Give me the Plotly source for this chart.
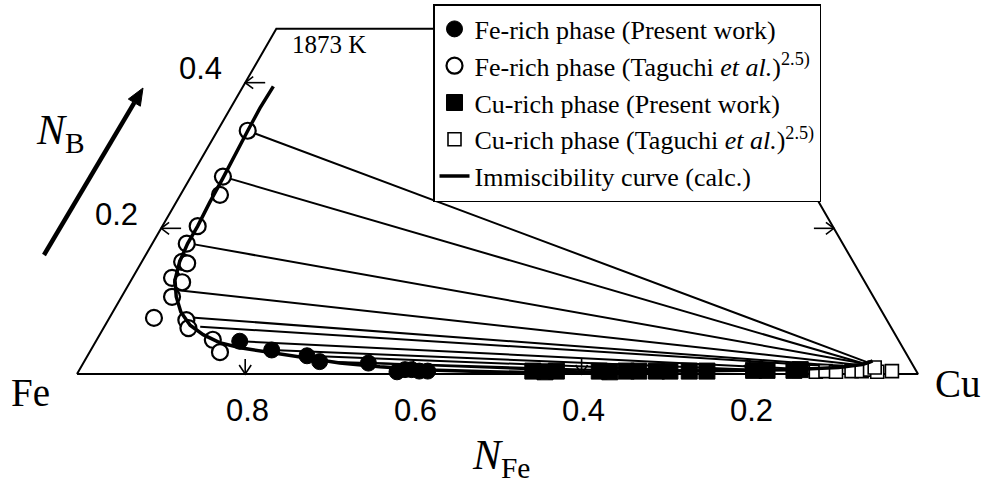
import numpy as np
import plotly.graph_objects as go

# ---------------- data (ternary compositions: N_Fe, N_B; N_Cu = 1 - N_Fe - N_B) -------------
fe_pw_NFe = [0.784, 0.752, 0.714, 0.703, 0.646, 0.618, 0.607, 0.599, 0.591, 0.581]
fe_pw_NB = [0.045, 0.033, 0.025, 0.017, 0.015, 0.003, 0.006, 0.006, 0.004, 0.004]

fe_tg_NFe = [0.630, 0.691, 0.707, 0.755, 0.780, 0.798, 0.793, 0.821, 0.812, 0.834,
             0.870, 0.833, 0.836, 0.815, 0.815]
fe_tg_NB = [0.334, 0.271, 0.246, 0.203, 0.179, 0.154, 0.152, 0.132, 0.126, 0.106,
            0.077, 0.074, 0.063, 0.047, 0.030]

cu_pw_NFe = [0.456, 0.442, 0.428, 0.377, 0.365, 0.345, 0.330, 0.309, 0.293, 0.270,
             0.249, 0.193, 0.177, 0.145, 0.137]
cu_pw_NB = [0.004, 0.003, 0.004, 0.004, 0.003, 0.004, 0.004, 0.004, 0.004, 0.004,
            0.004, 0.005, 0.005, 0.005, 0.006]

cu_tg_NFe = [0.120, 0.108, 0.096, 0.077, 0.065, 0.054, 0.047, 0.047, 0.029]
cu_tg_NB = [0.003, 0.004, 0.003, 0.004, 0.004, 0.006, 0.003, 0.009, 0.004]

# calculated immiscibility curve
curve_NFe = [0.569, 0.600, 0.630, 0.661, 0.692, 0.725, 0.755, 0.779, 0.801, 0.819,
             0.829, 0.834, 0.832, 0.823, 0.809, 0.788, 0.754, 0.716, 0.680, 0.635,
             0.578, 0.519, 0.460, 0.350, 0.250, 0.150, 0.090, 0.060, 0.050, 0.045]
curve_NB = [0.395, 0.365, 0.334, 0.301, 0.269, 0.235, 0.203, 0.179, 0.154, 0.129,
            0.106, 0.085, 0.067, 0.054, 0.043, 0.036, 0.029, 0.022, 0.015, 0.010,
            0.0055, 0.0034, 0.002, 0.003, 0.004, 0.006, 0.009, 0.013, 0.016, 0.018]

# tie lines: Fe-rich end and Cu-rich end
tie_fe_NFe = [0.630, 0.691, 0.776, 0.822, 0.829, 0.821, 0.784, 0.752, 0.714, 0.703, 0.646]
tie_fe_NB = [0.334, 0.271, 0.179, 0.115, 0.078, 0.065, 0.045, 0.033, 0.025, 0.017, 0.015]
tie_cu_NFe = [0.050, 0.059, 0.056, 0.054, 0.053, 0.051, 0.137, 0.185, 0.257, 0.317, 0.377]
tie_cu_NB = [0.015, 0.015, 0.014, 0.011, 0.008, 0.007, 0.007, 0.0055, 0.004, 0.0034, 0.0027]

NB_max = 0.474                      # upper cut of the diagram
NB_ticks = [0.2, 0.4]
NB_tick_labels = ["0.2", "0.4"]
NB_right_ticks = [0.2]
NFe_ticks = [0.8, 0.6, 0.4, 0.2]
NFe_tick_labels = ["0.8", "0.6", "0.4", "0.2"]

S3 = np.sqrt(3) / 2
PX = 1 / 841.0                       # one pixel in data units (equal aspect)
W, H = 988, 483


def txy(nfe, nb):
    nfe = np.asarray(nfe, float)
    nb = np.asarray(nb, float)
    ncu = 1 - nfe - nb
    return ncu + nb / 2, nb * S3


SERIF = "Liberation Serif"
SANS = "Liberation Sans"

fig = go.Figure()

# triangle outline (truncated)
ox, oy = txy([1, 0, 0, 1 - NB_max, 1], [0, 0, NB_max, NB_max, 0])
fig.add_trace(go.Scatter(x=ox, y=oy, mode="lines", line=dict(color="black", width=2),
                         showlegend=False, hoverinfo="skip"))

# tick marks (small arrows pointing to the edges)
kx, ky = [], []
for v in NB_ticks:                       # left edge, pointing left
    x0, y0 = [float(t[0]) for t in txy([1 - v], [v])]
    kx += [x0 + 20 * PX, x0, None, x0 + 8 * PX, x0, x0 + 8 * PX, None]
    ky += [y0, y0, None, y0 + 6 * PX, y0, y0 - 6 * PX, None]
for v in NB_right_ticks:                 # right edge, pointing right
    x0, y0 = [float(t[0]) for t in txy([0], [v])]
    kx += [x0 - 20 * PX, x0, None, x0 - 8 * PX, x0, x0 - 8 * PX, None]
    ky += [y0, y0, None, y0 + 6 * PX, y0, y0 - 6 * PX, None]
for v in NFe_ticks:                      # bottom edge, pointing down
    x0, y0 = [float(t[0]) for t in txy([v], [0])]
    kx += [x0, x0, None, x0 - 6 * PX, x0, x0 + 6 * PX, None]
    ky += [y0 + 15 * PX, y0, None, y0 + 9 * PX, y0, y0 + 9 * PX, None]
fig.add_trace(go.Scatter(x=kx, y=ky, mode="lines", line=dict(color="black", width=1.6),
                         showlegend=False, hoverinfo="skip"))

# tie lines
tx, ty = [], []
for a, b, c, d in zip(tie_fe_NFe, tie_fe_NB, tie_cu_NFe, tie_cu_NB):
    x1, y1 = txy([a, c], [b, d])
    tx += list(x1) + [None]
    ty += list(y1) + [None]
fig.add_trace(go.Scatter(x=tx, y=ty, mode="lines", line=dict(color="black", width=2),
                         showlegend=False, hoverinfo="skip"))

cx, cy = txy(curve_NFe, curve_NB)

x, y = txy(fe_pw_NFe, fe_pw_NB)
fig.add_trace(go.Scatter(x=x, y=y, mode="markers", name="Fe-rich phase (Present work)",
                         marker=dict(symbol="circle", size=16, color="black",
                                     line=dict(color="black", width=1))))
x, y = txy(fe_tg_NFe, fe_tg_NB)
fig.add_trace(go.Scatter(x=x, y=y, mode="markers",
                         name="Fe-rich phase (Taguchi <i>et al.</i>)<sup>2.5)</sup>",
                         marker=dict(symbol="circle", size=16, color="white",
                                     line=dict(color="black", width=2.2))))
x, y = txy(cu_pw_NFe, cu_pw_NB)
fig.add_trace(go.Scatter(x=x, y=y, mode="markers", name="Cu-rich phase (Present work)",
                         marker=dict(symbol="square", size=16, color="black",
                                     line=dict(color="black", width=1))))
x, y = txy(cu_tg_NFe, cu_tg_NB)
fig.add_trace(go.Scatter(x=x, y=y, mode="markers",
                         name="Cu-rich phase (Taguchi <i>et al.</i>)<sup>2.5)</sup>",
                         marker=dict(symbol="square", size=13, color="white",
                                     line=dict(color="black", width=1.6))))
fig.add_trace(go.Scatter(x=cx, y=cy, mode="lines", name="Immiscibility curve (calc.)",
                         line=dict(color="black", width=3.5)))

ann = []
for v, lab in zip(NB_ticks, NB_tick_labels):
    x0, y0 = txy([1 - v], [v])
    ann.append(dict(x=float(x0[0]), y=float(y0[0]), xref="x", yref="y", text=lab,
                    showarrow=False, xanchor="center", yanchor="middle",
                    xshift=-45, yshift=14, font=dict(family=SANS, size=31, color="black")))
for v, lab in zip(NFe_ticks, NFe_tick_labels):
    x0, y0 = txy([v], [0])
    ann.append(dict(x=float(x0[0]), y=0, xref="x", yref="y", text=lab, showarrow=False,
                    xanchor="center", yanchor="middle",
                    yshift=-36, xshift=2, font=dict(family=SANS, size=31, color="black")))


def lab(px, py, text, size, fam=SERIF):
    return dict(x=px / W, y=1 - py / H, xref="paper", yref="paper", text=text,
                showarrow=False, xanchor="center", yanchor="middle",
                font=dict(family=fam, size=size, color="black"))


ann += [
    lab(31, 392, "Fe", 39),
    lab(958, 383, "Cu", 39),
    lab(60, 133, "<i>N</i><sub>B</sub>", 42),
    lab(501, 458, "<i>N</i><sub>Fe</sub>", 42),
    lab(329, 45, "1873 K", 25),
]

# N_B direction arrow (shapes in paper coords)
tail = np.array([44.0, 255.0])
tip = np.array([143.0, 88.0])
u = (tip - tail) / np.linalg.norm(tip - tail)
n = np.array([-u[1], u[0]])
base = tip - 17 * u
c1 = base + 7 * n
c2 = base - 7 * n


def P(p):
    return p[0] / W, 1 - p[1] / H


shapes = [
    dict(type="line", xref="paper", yref="paper",
         x0=P(tail)[0], y0=P(tail)[1], x1=P(base)[0], y1=P(base)[1],
         line=dict(color="black", width=4.5)),
    dict(type="path", xref="paper", yref="paper",
         path="M {:.5f} {:.5f} L {:.5f} {:.5f} L {:.5f} {:.5f} Z".format(
             *P(tip), *P(c1), *P(c2)),
         fillcolor="black", line=dict(color="black", width=1)),
]

fig.update_layout(
    width=W, height=H, autosize=False,
    margin=dict(l=0, r=0, t=0, b=0),
    paper_bgcolor="white", plot_bgcolor="white",
    xaxis=dict(range=[-77 * PX, 911 * PX], visible=False, fixedrange=True),
    yaxis=dict(range=[-109 * PX, 374 * PX], visible=False, fixedrange=True),
    showlegend=True,
    legend=dict(x=433 / W, y=1 - 4 / H, xanchor="left", yanchor="top",
                bgcolor="white", bordercolor="black", borderwidth=1.5,
                font=dict(family=SERIF, size=26, color="black"),
                itemwidth=30),
    annotations=ann,
    shapes=shapes,
    hovermode=False,
)

fig.write_html("out.html")
